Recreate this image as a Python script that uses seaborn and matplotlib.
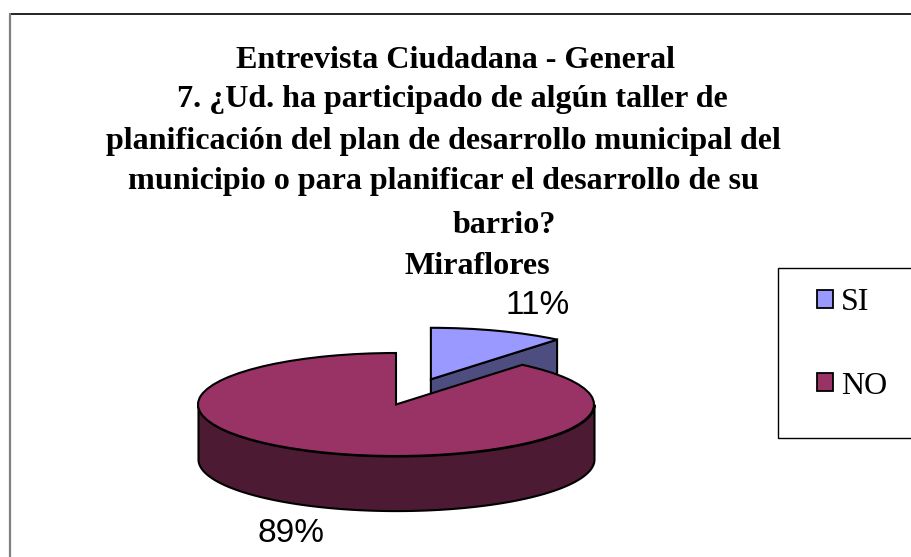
import numpy as np
import matplotlib
matplotlib.use("Agg")
import matplotlib.pyplot as plt
import seaborn as sns
from matplotlib.lines import Line2D
from matplotlib.patches import Rectangle

# DATA
categories = ["SI", "NO"]
values = [11, 89]
title_lines = [
    "Entrevista Ciudadana - General",
    "7. ¿Ud. ha participado de algún taller de",
    "planificación del plan de desarrollo municipal del",
    "municipio o para planificar el desarrollo de su",
    "barrio?",
    "Miraflores",
]

# LAYOUT (pixels of the 911x557 picture)
W, H = 911, 557
CX, CY, RX, RY = 396, 404.5, 198, 51.5
DEPTH = 1.06
EXPLODE = 0.52
title_x = [455, 452, 443, 443, 504, 477]
title_y = [60, 100, 142, 181, 225, 266]
label_pos = [(538, 305), (291, 534)]

sns.set_theme(style="white")
plt.rcParams["font.family"] = ["Liberation Serif", "DejaVu Serif"]
colors = sns.color_palette(["#9999FF", "#993366"])
sides = [tuple(np.array(c) * 0.5) for c in colors]


def fx(x):
    return x / W


def fy(y):
    return 1 - y / H


fig = plt.figure(figsize=(W / 100, H / 100), dpi=100, facecolor="white")
ax = fig.add_axes([0, 0, 1, 1])

wedges, _ = ax.pie(
    values,
    colors=colors,
    startangle=90,
    counterclock=False,
    explode=[EXPLODE, 0],
    wedgeprops={"edgecolor": "black", "linewidth": 1.5},
)
ax.set_aspect("auto")
ax.set_xlim(-CX / RX, (W - CX) / RX)
ax.set_ylim(-(H - CY) / RY, CY / RY)
wedges[0].set_zorder(3)
wedges[1].set_zorder(5)

# cut face of the pulled out slice
share = 2 * np.pi * values[0] / sum(values)
mid = share / 2
ex, ey = EXPLODE * np.sin(mid), EXPLODE * np.cos(mid)
tx, ty = ex + np.sin(share), ey + np.cos(share)
ax.fill([ex, tx, tx, ex], [ey, ty, ty - DEPTH, ey - DEPTH],
        facecolor=sides[0], edgecolor="black", linewidth=1.5, zorder=2)

# front wall of the big slice
t = np.linspace(np.pi, 2 * np.pi, 200)
ax.fill_between(np.cos(t), np.sin(t), np.sin(t) - DEPTH,
                facecolor=sides[1], edgecolor="black", linewidth=1.5, zorder=4)

for line, x, y in zip(title_lines, title_x, title_y):
    fig.text(fx(x), fy(y), line, ha="center", va="center",
             fontsize=23.1, fontweight="bold", color="black")

for v, (x, y) in zip(values, label_pos):
    fig.text(fx(x), fy(y), f"{v}%", ha="center", va="center",
             fontsize=24, family="Liberation Sans", color="black")

# chart frame: only top and left are inside the picture
fig.add_artist(Line2D([fx(10), 1], [fy(14), fy(14)], color="black", lw=1.2))
fig.add_artist(Line2D([fx(10), fx(10)], [fy(14), 0], color="#808080", lw=1.6))

# legend box runs off the right edge
fig.add_artist(Rectangle((fx(778), fy(438)), fx(150), (438 - 268) / H,
                         facecolor="white", edgecolor="black", lw=1.0))
handles = [Rectangle((0, 0), 1, 1, facecolor=c, edgecolor="black", lw=1.3) for c in colors]
fig.legend(
    handles, categories,
    loc="upper left",
    bbox_to_anchor=(fx(817), fy(288)),
    frameon=False,
    fontsize=23,
    labelcolor="black",
    borderpad=0,
    borderaxespad=0,
    handlelength=0.5,
    handleheight=0.5,
    handletextpad=0.26,
    labelspacing=1.71,
)

fig.savefig("out.png", dpi=100)
